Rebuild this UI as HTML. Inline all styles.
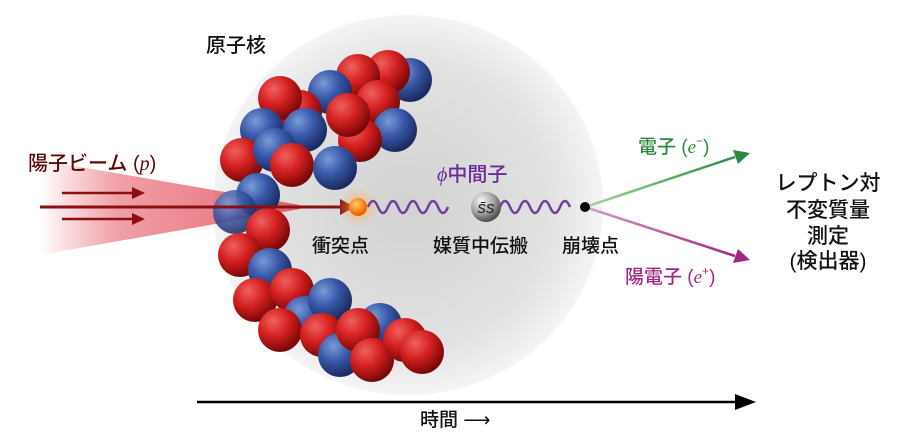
<!DOCTYPE html>
<html><head><meta charset="utf-8"><style>
html,body{margin:0;padding:0;background:#fff;width:900px;height:437px;overflow:hidden}
text{font-family:"Liberation Sans","Noto Sans CJK JP",sans-serif;font-weight:500}
</style></head><body>
<svg width="900" height="437" viewBox="0 0 900 437" xmlns="http://www.w3.org/2000/svg">
<defs>
<radialGradient id="nuc" cx="0.5" cy="0.5" r="0.5"><stop offset="0" stop-color="#d2d2d2"/><stop offset="0.75" stop-color="#e2e2e2"/><stop offset="1" stop-color="#f4f4f4"/></radialGradient>
<radialGradient id="red" cx="0.35" cy="0.3" r="0.7"><stop offset="0" stop-color="#f06060"/><stop offset="0.5" stop-color="#d42020"/><stop offset="1" stop-color="#7a0808"/></radialGradient>
<radialGradient id="blue" cx="0.35" cy="0.3" r="0.7"><stop offset="0" stop-color="#7a9ad8"/><stop offset="0.5" stop-color="#3858a8"/><stop offset="1" stop-color="#1a2a60"/></radialGradient>
<radialGradient id="gray" cx="0.35" cy="0.3" r="0.7"><stop offset="0" stop-color="#fafafa"/><stop offset="0.6" stop-color="#a0a0a0"/><stop offset="1" stop-color="#505050"/></radialGradient>
<radialGradient id="orange" cx="0.4" cy="0.35" r="0.6"><stop offset="0" stop-color="#ffd060"/><stop offset="1" stop-color="#f06000"/></radialGradient>
<radialGradient id="glow" cx="0.5" cy="0.5" r="0.5"><stop offset="0" stop-color="#ffb060" stop-opacity="0.8"/><stop offset="1" stop-color="#ffb060" stop-opacity="0"/></radialGradient>
<linearGradient id="beam" x1="0" x2="1"><stop offset="0" stop-color="#e03040" stop-opacity="0"/><stop offset="0.3" stop-color="#e04050" stop-opacity="0.5"/><stop offset="1" stop-color="#e04050" stop-opacity="0.8"/></linearGradient>
<linearGradient id="grn" x1="0" x2="1"><stop offset="0" stop-color="#a8d8a0"/><stop offset="1" stop-color="#2a8a40"/></linearGradient>
<linearGradient id="mag" x1="0" x2="1"><stop offset="0" stop-color="#d8a0c8"/><stop offset="1" stop-color="#a02880"/></linearGradient>
</defs>
<ellipse cx="408" cy="205" rx="195" ry="190" fill="url(#nuc)"/>
<polygon points="40,160 300,205 300,209 40,255" fill="url(#beam)"/>
<g>
<circle cx="410" cy="80" r="22" fill="url(#blue)"/>
<circle cx="388" cy="72" r="22" fill="url(#red)"/>
<circle cx="358" cy="76" r="22" fill="url(#red)"/>
<circle cx="330" cy="92" r="22" fill="url(#blue)"/>
<circle cx="300" cy="112" r="22" fill="url(#red)"/>
<circle cx="280" cy="98" r="22" fill="url(#red)"/>
<circle cx="378" cy="102" r="22" fill="url(#red)"/>
<circle cx="395" cy="130" r="22" fill="url(#blue)"/>
<circle cx="360" cy="140" r="22" fill="url(#red)"/>
<circle cx="262" cy="130" r="22" fill="url(#blue)"/>
<circle cx="348" cy="115" r="22" fill="url(#red)"/>
<circle cx="305" cy="130" r="22" fill="url(#blue)"/>
<circle cx="242" cy="160" r="22" fill="url(#red)"/>
<circle cx="275" cy="150" r="22" fill="url(#blue)"/>
<circle cx="292" cy="165" r="22" fill="url(#red)"/>
<circle cx="335" cy="168" r="22" fill="url(#blue)"/>
<circle cx="258" cy="195" r="22" fill="url(#blue)"/>
<circle cx="235" cy="212" r="22" fill="url(#blue)" opacity="0.85"/>
<circle cx="268" cy="230" r="22" fill="url(#red)"/>
<circle cx="240" cy="255" r="22" fill="url(#red)"/>
<circle cx="270" cy="270" r="22" fill="url(#blue)"/>
<circle cx="255" cy="300" r="22" fill="url(#red)"/>
<circle cx="292" cy="290" r="22" fill="url(#red)"/>
<circle cx="305" cy="318" r="22" fill="url(#blue)"/>
<circle cx="280" cy="330" r="22" fill="url(#red)"/>
<circle cx="330" cy="300" r="22" fill="url(#blue)"/>
<circle cx="322" cy="335" r="22" fill="url(#red)"/>
<circle cx="340" cy="355" r="22" fill="url(#blue)"/>
<circle cx="380" cy="325" r="22" fill="url(#blue)"/>
<circle cx="358" cy="330" r="22" fill="url(#red)"/>
<circle cx="372" cy="360" r="22" fill="url(#red)"/>
<circle cx="405" cy="340" r="22" fill="url(#red)"/>
<circle cx="422" cy="352" r="22" fill="url(#red)"/>
</g>
<line x1="40" y1="207" x2="340" y2="207" stroke="#8a1010" stroke-width="3"/>
<polygon points="340,199 355,207 340,215" fill="#8a1010"/>
<line x1="62" y1="193" x2="135" y2="193" stroke="#8a1010" stroke-width="2.5"/>
<polygon points="132,187 145,193 132,199" fill="#8a1010"/>
<line x1="62" y1="219" x2="135" y2="219" stroke="#8a1010" stroke-width="2.5"/>
<polygon points="132,213 145,219 132,225" fill="#8a1010"/>
<circle cx="358" cy="207" r="20" fill="url(#glow)"/>
<circle cx="358" cy="207" r="9" fill="url(#orange)"/>
<path d="M368,207 q5,-12 10,0 t10,0 t10,0 t10,0 t10,0 t10,0 t10,0 t10,0" fill="none" stroke="#7040a0" stroke-width="2.5"/>
<path d="M500,207 q5,-12 10,0 t10,0 t10,0 t10,0 t10,0 t10,0 t10,0" fill="none" stroke="#7040a0" stroke-width="2.5"/>
<circle cx="486" cy="207" r="15" fill="url(#gray)"/>
<text x="486" y="213" font-family="Liberation Serif,serif" font-style="italic" font-size="17" text-anchor="middle" fill="#222">s̄s</text>
<line x1="585" y1="207" x2="735" y2="157" stroke="url(#grn)" stroke-width="2.5"/>
<polygon points="733,150 750,153 738,164" fill="#2a8a40"/>
<line x1="585" y1="207" x2="735" y2="256" stroke="url(#mag)" stroke-width="2.5"/>
<polygon points="738,249 750,260 733,263" fill="#a02880"/>
<circle cx="585" cy="207" r="5" fill="#000"/>
<line x1="197" y1="402" x2="740" y2="402" stroke="#000" stroke-width="2.5"/>
<polygon points="735,394 756,402 735,410" fill="#000"/>
<text x="206" y="52" font-size="20" fill="#111">原子核</text>
<text x="28" y="170" font-size="20" fill="#5a0a0a">陽子ビーム (<tspan font-family="Liberation Serif,serif" font-style="italic">p</tspan>)</text>
<text x="312" y="252" font-size="19" fill="#111">衝突点</text>
<text x="437" y="181" font-size="20" fill="#6a2a9a"><tspan font-family="Liberation Serif,serif" font-style="italic">ϕ</tspan>中間子</text>
<text x="433" y="252" font-size="19" fill="#111">媒質中伝搬</text>
<text x="562" y="252" font-size="19" fill="#111">崩壊点</text>
<text x="638" y="153" font-size="19" fill="#2a8a40">電子 (<tspan font-family="Liberation Serif,serif" font-style="italic">e</tspan><tspan font-size="12" dy="-8">−</tspan><tspan dy="8">)</tspan></text>
<text x="625" y="283" font-size="19" fill="#a02880">陽電子 (<tspan font-family="Liberation Serif,serif" font-style="italic">e</tspan><tspan font-size="12" dy="-8">+</tspan><tspan dy="8">)</tspan></text>
<g font-size="21" fill="#111" text-anchor="middle">
<text x="828" y="190">レプトン対</text>
<text x="828" y="217">不変質量</text>
<text x="828" y="243">測定</text>
<text x="828" y="268">(検出器)</text>
</g>
<text x="420" y="426" font-size="19" fill="#111">時間 ⟶</text>
</svg>
</body></html>
